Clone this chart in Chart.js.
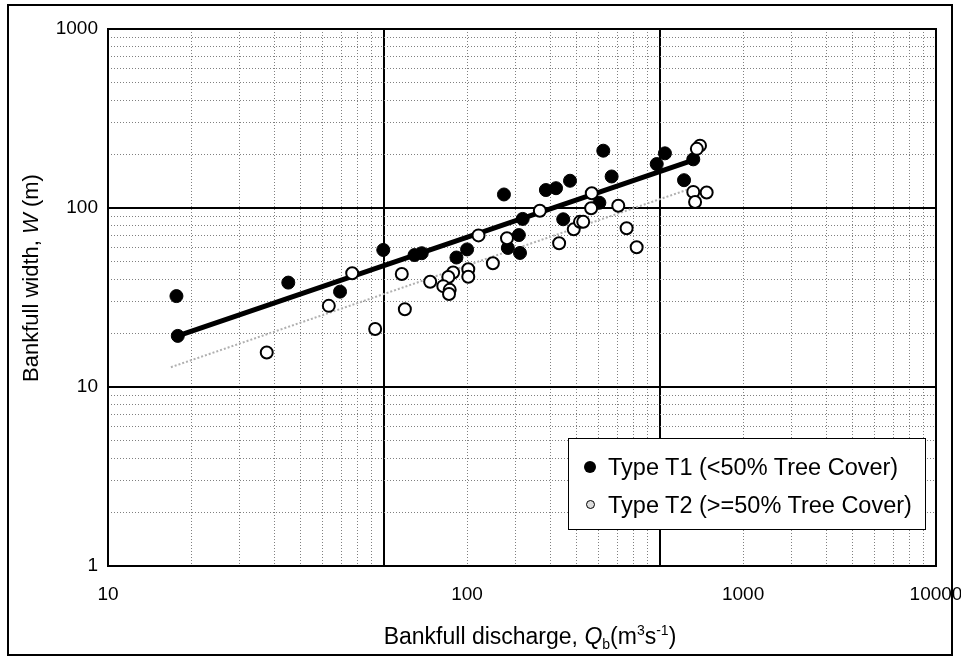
<!DOCTYPE html>
<html>
<head>
<meta charset="utf-8">
<script src="https://cdn.jsdelivr.net/npm/chart.js@4.4.1/dist/chart.umd.min.js"></script>
<style>
    body { margin: 0; background: #fff; font-family: 'Liberation Sans', Arial, sans-serif; }
    #wrap { position: relative; width: 961px; height: 659px; }
    #frame { position: absolute; left: 7px; top: 4px; width: 942px; height: 648px; border: 2px solid #000; pointer-events: none; }
    .ytitle { position: absolute; left: 31px; top: 278px; transform: translate(-50%, -50%) rotate(-90deg); white-space: nowrap; font-size: 22px; }
    .xtitle { position: absolute; left: 530px; top: 637px; transform: translate(-50%, -50%); white-space: nowrap; font-size: 23px; }
    .xtitle sub, .xtitle sup { font-size: 14px; }
    .legend { position: absolute; left: 568px; top: 438px; width: 356px; height: 90px; border: 1.5px solid #000; background: #fff; font-size: 23.5px; }
    .legend .row { position: absolute; left: 0; height: 30px; line-height: 30px; white-space: nowrap; }
    .legend .mk { position: absolute; border-radius: 50%; box-sizing: border-box; }
    .legend .txt { position: absolute; left: 39px; }
</style>
</head>
<body>
<div id="wrap">
    <canvas id="chart" width="961" height="659"></canvas>
    <div id="frame"></div>
    <div class="ytitle">Bankfull width, <i>W</i> (m)</div>
    <div class="xtitle">Bankfull discharge, <i>Q</i><sub>b</sub>(m<sup>3</sup>s<sup>-1</sup>)</div>
    <div class="legend">
        <div class="row" style="top:13px">
            <span class="mk" style="left:15px; top:9px; width:12px; height:12px; background:#000"></span>
            <span class="txt">Type T1 (&lt;50% Tree Cover)</span>
        </div>
        <div class="row" style="top:51px">
            <span class="mk" style="left:17px; top:10px; width:9px; height:9px; background:#ddd; border:1.5px solid #000"></span>
            <span class="txt">Type T2 (&gt;=50% Tree Cover)</span>
        </div>
    </div>
</div>
<script>
// Type T1 (<50% tree cover)
const t1Q = [17.7, 17.9, 45.0, 69.3, 99.4, 129, 137, 183, 200, 272, 281, 308, 311, 318, 386, 420, 446, 472, 603, 623, 668, 973, 1042, 1222, 1320];
const t1W = [32.2, 19.3, 38.3, 34.1, 58.3, 54.6, 55.9, 52.9, 58.7, 119, 59.8, 70.6, 56.1, 86.9, 126, 129, 86.5, 142, 107, 209, 150, 176, 202, 143, 187];

// Type T2 (>=50% tree cover)
const t2Q = [37.6, 63.1, 76.7, 92.9, 116, 119, 147, 178, 171, 164, 173, 172, 202, 202, 220, 248, 279, 367, 431, 487, 513, 527, 566, 563, 706, 757, 823, 1320, 1476, 1340, 1396, 1360];
const t2W = [15.6, 28.4, 43.2, 21.1, 42.8, 27.2, 38.7, 43.6, 41.2, 36.6, 34.9, 33.1, 45.5, 41.3, 70.3, 49.1, 67.8, 96.6, 63.5, 76.0, 83.7, 83.7, 121, 99.6, 103, 77.1, 60.3, 123, 122, 108, 223, 214];

// regression lines (end points)
const fitT1Q = [17.9, 1320];
const fitT1W = [19.3, 185];
const fitT2Q = [16.9, 1285];
const fitT2W = [12.9, 128];

// grid values and labels
const xGridValues = [10, 20, 30, 40, 50, 60, 70, 80, 90, 100, 200, 300, 400, 500, 600, 700, 800, 900, 1000, 2000, 3000, 4000, 5000, 6000, 7000, 8000, 9000, 10000];
const yGridValues = [1, 2, 3, 4, 5, 6, 7, 8, 9, 10, 20, 30, 40, 50, 60, 70, 80, 90, 100, 200, 300, 400, 500, 600, 700, 800, 900, 1000];
// the source figure prints its 100 / 1000 labels off the decade lines, near 200 / 2000
const xTickValues = [10, 200, 2000, 10000];
const xTickText = ['10', '100', '1000', '10000'];
const yTickValues = [1, 10, 100, 1000];
const yTickText = ['1', '10', '100', '1000'];
const xMajor = [100, 1000];
const yMajor = [10, 100];

const FONT = "'Liberation Sans', Arial, sans-serif";

function toPoints(xs, ys) {
    return xs.map((x, i) => ({ x: x, y: ys[i] }));
}

const framePlugin = {
    id: 'frame',
    afterDraw(chart) {
        const a = chart.chartArea;
        const c = chart.ctx;
        c.save();
        c.strokeStyle = '#000';
        c.lineWidth = 2;
        c.strokeRect(a.left, a.top, a.right - a.left, a.bottom - a.top);
        c.restore();
    }
};

function gridOpts(major) {
    return {
        drawTicks: false,
        color: c => major.includes(c.tick && c.tick.value) ? '#000' : '#808080',
        lineWidth: c => major.includes(c.tick && c.tick.value) ? 2 : 1
    };
}

function borderOpts(major) {
    return {
        display: false,
        dash: c => major.includes(c.tick && c.tick.value) ? [] : [1, 2]
    };
}

new Chart(document.getElementById('chart'), {
    type: 'scatter',
    data: {
        datasets: [
            {
                label: 'Type T2 (>=50% Tree Cover)',
                data: toPoints(t2Q, t2W),
                pointRadius: 6,
                pointBackgroundColor: '#fff',
                pointBorderColor: '#000',
                pointBorderWidth: 2
            },
            {
                label: 'Type T1 (<50% Tree Cover)',
                data: toPoints(t1Q, t1W),
                pointRadius: 6.5,
                pointBackgroundColor: '#000',
                pointBorderColor: '#000',
                pointBorderWidth: 1
            },
            {
                type: 'line',
                label: 'Fit T1',
                data: toPoints(fitT1Q, fitT1W),
                borderColor: '#000',
                borderWidth: 5,
                pointRadius: 0,
                fill: false
            },
            {
                type: 'line',
                label: 'Fit T2',
                data: toPoints(fitT2Q, fitT2W),
                borderColor: '#b0b0b0',
                borderWidth: 2,
                borderDash: [2, 2],
                pointRadius: 0,
                fill: false
            }
        ]
    },
    options: {
        responsive: false,
        animation: false,
        devicePixelRatio: 1,
        layout: { padding: { top: 29, right: 25, left: 0, bottom: 0 } },
        plugins: {
            legend: { display: false },
            tooltip: { enabled: false }
        },
        scales: {
            x: {
                type: 'logarithmic',
                position: 'bottom',
                min: 10,
                max: 10000,
                afterBuildTicks: s => { s.ticks = xGridValues.map(v => ({ value: v })); },
                afterFit: s => { s.height = 93; s.paddingLeft = 0; s.paddingRight = 0; },
                ticks: {
                    autoSkip: false,
                    maxRotation: 0,
                    padding: 17,
                    color: '#000',
                    font: { family: FONT, size: 19 },
                    callback: v => {
                        const i = xTickValues.indexOf(v);
                        return i >= 0 ? xTickText[i] : '';
                    }
                },
                grid: gridOpts(xMajor),
                border: borderOpts(xMajor)
            },
            y: {
                type: 'logarithmic',
                min: 1,
                max: 1000,
                afterBuildTicks: s => { s.ticks = yGridValues.map(v => ({ value: v })); },
                afterFit: s => { s.width = 108; s.paddingTop = 0; s.paddingBottom = 0; },
                ticks: {
                    autoSkip: false,
                    padding: 10,
                    color: '#000',
                    font: { family: FONT, size: 19 },
                    callback: v => {
                        const i = yTickValues.indexOf(v);
                        return i >= 0 ? yTickText[i] : '';
                    }
                },
                grid: gridOpts(yMajor),
                border: borderOpts(yMajor)
            }
        }
    },
    plugins: [framePlugin]
});
</script>
</body>
</html>
